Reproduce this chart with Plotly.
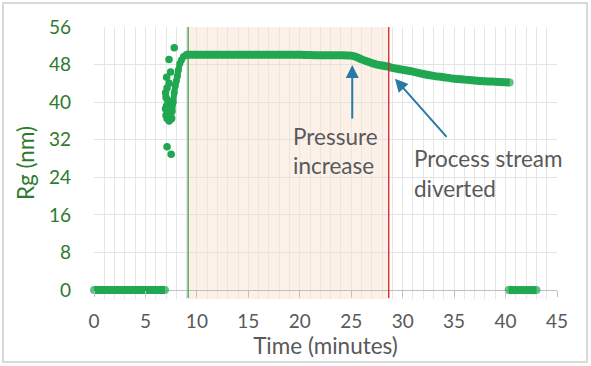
import plotly.graph_objects as go

# ---- data ----
t_start = [0, 1, 2, 3, 4, 5, 6, 6.9]
v_start = [0, 0, 0, 0, 0, 0, 0, 0]

t_noise = [7.8, 7.29, 7.06, 7.45, 7.3, 7.1, 6.95, 7.0, 7.15, 7.3, 7.05, 6.95, 7.2, 7.4, 7.0, 7.1, 7.5, 7.3, 7.55, 7.2, 7.1, 7.5]
v_noise = [51.6, 49.1, 45.3, 46.4, 44.0, 43.0, 42.0, 41.0, 40.4, 39.8, 39.2, 38.6, 38.0, 37.6, 37.2, 36.5, 36.4, 36.0, 36.6, 36.9, 30.5, 28.9]

t_rise = [7.6, 7.7, 7.8, 7.9, 8.0, 8.1, 8.2, 8.35, 8.5, 8.7, 9.0]
v_rise = [38.0, 40.0, 42.0, 43.5, 44.5, 45.5, 46.8, 48.3, 49.0, 49.7, 50.1]

t_main = [9, 10, 12, 14, 16, 18, 20, 22, 24, 25, 25.5, 26, 26.5, 27, 27.5, 28, 28.5, 29, 30, 31, 32, 33, 34, 35, 36, 37, 38, 39, 40, 40.4]
v_main = [50.1, 50.1, 50.1, 50.1, 50.1, 50.1, 50.1, 50.0, 50.0, 49.9, 49.6, 49.1, 48.7, 48.3, 48.0, 47.8, 47.6, 47.3, 46.9, 46.5, 46.0, 45.6, 45.3, 45.0, 44.8, 44.6, 44.45, 44.35, 44.25, 44.2]

t_end = [40.3, 41, 42, 43.0]
v_end = [0, 0, 0, 0]

x_ticks = [0, 5, 10, 15, 20, 25, 30, 35, 40, 45]
y_ticks = [0, 8, 16, 24, 32, 40, 48, 56]

shade_start = 9.15
shade_end = 28.65

GREEN = "#1fa851"
TICK_GREEN = "#2e7a2e"
GRAY_TXT = "#595959"
ARROW = "#2a7aa8"
FONT = "Lato"
PX_PER_Y = 263 / 56  # pixels per y unit


def y_at(px):
    return (290 - px) / PX_PER_Y


def end_caps(n, s=8):
    return [s] + [0] * (n - 2) + [s]


fig = go.Figure()
for tx, vy in [(t_start, v_start), (t_main, v_main), (t_end, v_end)]:
    fig.add_trace(go.Scatter(x=tx, y=vy, mode="lines+markers",
                             line=dict(color=GREEN, width=8, shape="spline", smoothing=0.8),
                             marker=dict(color=GREEN, size=end_caps(len(tx)), line=dict(width=0)),
                             cliponaxis=False, showlegend=False, hoverinfo="skip"))
fig.add_trace(go.Scatter(x=t_rise, y=v_rise, mode="lines+markers",
                         line=dict(color=GREEN, width=6, shape="spline"),
                         marker=dict(color=GREEN, size=7),
                         cliponaxis=False, showlegend=False, hoverinfo="skip"))
fig.add_trace(go.Scatter(x=t_noise, y=v_noise, mode="markers",
                         marker=dict(color=GREEN, size=7.5),
                         cliponaxis=False, showlegend=False, hoverinfo="skip"))

shapes = [
    dict(type="rect", xref="x", yref="y", x0=shade_start, x1=shade_end, y0=-1.9, y1=56,
         fillcolor="#fdf0e7", line=dict(width=0), layer="below"),
    dict(type="line", xref="x", yref="y", x0=shade_start, x1=shade_start, y0=-1.7, y1=56,
         line=dict(color="#3aa04a", width=1.3)),
    dict(type="line", xref="x", yref="y", x0=shade_end, x1=shade_end, y0=-1.7, y1=56,
         line=dict(color="#d0202a", width=1.3)),
    dict(type="rect", xref="paper", yref="paper", x0=-0.1965, x1=1.0648, y0=-0.2316, y1=1.0882,
         line=dict(color="#d9d9d9", width=2), fillcolor="rgba(0,0,0,0)"),
]

TXT = dict(family=FONT, size=22.5, color=GRAY_TXT)
annotations = [
    dict(x=25.1, y=47.9, ax=25.1, ay=36.2, axref="x", ayref="y", xref="x", yref="y",
         text="", showarrow=True, arrowhead=2, arrowsize=1.3, arrowwidth=2, arrowcolor=ARROW),
    dict(x=29.25, y=45.0, ax=34.4, ay=32.3, axref="x", ayref="y", xref="x", yref="y",
         text="", showarrow=True, arrowhead=2, arrowsize=1.3, arrowwidth=2, arrowcolor=ARROW),
    dict(x=19.1, y=y_at(136.7), xref="x", yref="y", text="Pressure",
         showarrow=False, xanchor="left", yanchor="middle", font=TXT),
    dict(x=19.1, y=y_at(165), xref="x", yref="y", text="increase",
         showarrow=False, xanchor="left", yanchor="middle", font=TXT),
    dict(x=30.87, y=y_at(158.3), xref="x", yref="y", text="Process stream",
         showarrow=False, xanchor="left", yanchor="middle", font=TXT),
    dict(x=30.87, y=y_at(188.3), xref="x", yref="y", text="diverted",
         showarrow=False, xanchor="left", yanchor="middle", font=TXT),
]

fig.update_layout(
    width=591, height=366,
    margin=dict(l=94, r=34, t=27, b=67),
    paper_bgcolor="white", plot_bgcolor="white",
    shapes=shapes, annotations=annotations,
    font=dict(family=FONT),
    xaxis=dict(range=[0, 45], tickvals=x_ticks, ticktext=[str(v) for v in x_ticks],
               anchor="free", position=9 / 272,
               showgrid=True, gridcolor="#e6e6e6", gridwidth=1,
               minor=dict(dtick=1, showgrid=True, gridcolor="#e6e6e6", gridwidth=1),
               showline=False, zeroline=False,
               ticks="outside", ticklen=6, tickcolor="#bfbfbf",
               ticklabelstandoff=8,
               tickfont=dict(family=FONT, size=19, color=GRAY_TXT),
               title=dict(text="Time (minutes)", font=dict(family=FONT, size=22.5, color=GRAY_TXT), standoff=0)),
    yaxis=dict(range=[-1.9, 56], tickvals=y_ticks, ticktext=[str(v) for v in y_ticks],
               showgrid=True, gridcolor="#e3e3e3", gridwidth=1,
               zeroline=True, zerolinecolor="#bfbfbf", zerolinewidth=1.3,
               showline=False, ticks="", ticklabelstandoff=22,
               tickfont=dict(family=FONT, size=19, color=TICK_GREEN),
               title=dict(text="Rg (nm)", font=dict(family=FONT, size=22.5, color=TICK_GREEN), standoff=8)),
)

fig.write_html("out.html", config={"displayModeBar": False},
               post_script="document.body.style.margin='0px';")
